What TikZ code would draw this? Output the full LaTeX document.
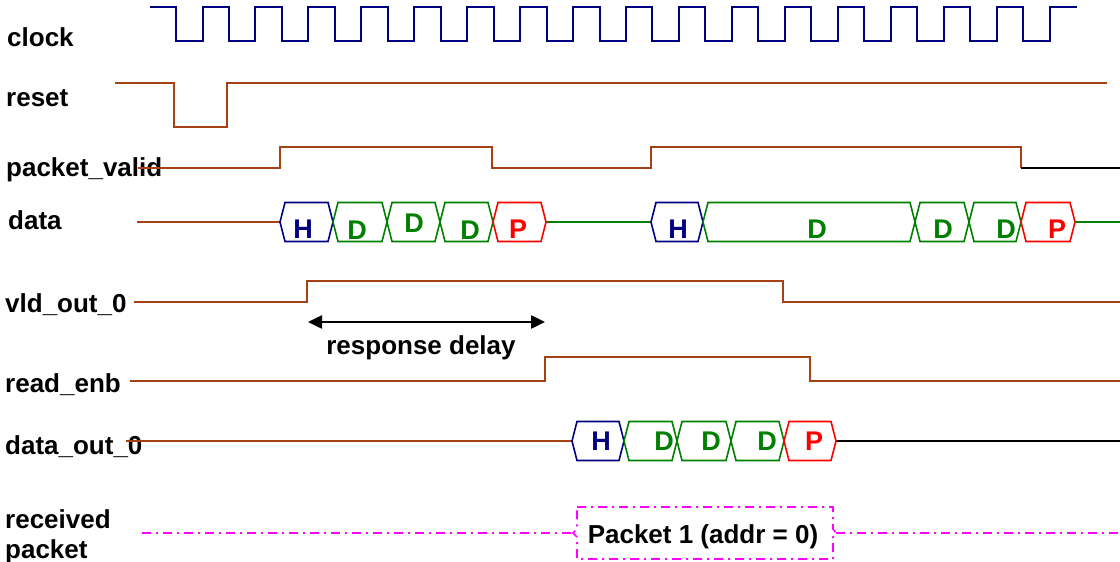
\documentclass[tikz,border=0pt]{standalone}
\usepackage{fontspec}
\setmainfont{Liberation Sans}
\usetikzlibrary{arrows.meta}
\definecolor{clknavy}{RGB}{0,0,128}
\definecolor{sigbrown}{RGB}{165,65,20}
\definecolor{datgreen}{RGB}{0,128,0}
\definecolor{pktmagenta}{RGB}{255,0,255}

\newcommand{\datacell}[4]{%
  \draw[#1, line width=1.6pt] (#2,#4) -- (#2+5,#4-19.5) -- (#3-5,#4-19.5) -- (#3,#4)
    -- (#3-5,#4+19.5) -- (#2+5,#4+19.5) -- cycle;}

\begin{document}
\begin{tikzpicture}[x=1pt,y=-1pt,
    sig/.style={line width=2pt, line join=miter},
    lbl/.style={anchor=base west, inner sep=0pt, font=\fontsize{26}{30}\selectfont\bfseries},
    ltr/.style={anchor=base, inner sep=0pt, font=\fontsize{27}{30}\selectfont\bfseries}]
\useasboundingbox (0,0) rectangle (1120,562);

\foreach \t/\x/\y/\n in {clock/7/46/lclk, reset/6/106/lrst, packet\_valid/6/176/lpv,
    data/8/229/ldat, vld\_out\_0/5/312/lvld, read\_enb/5/392/lrd, data\_out\_0/5/454/ldo,
    received/5/528/lrcv, packet/5/558/lpkt}{
  \node[lbl] (\n) at (\x,\y) {\t};
}

\draw[clknavy, line width=2pt] (150,7) foreach \i in {0,...,16}{
    -- ({176+52.94*\i},7) -- ({176+52.94*\i},41) -- ({202.5+52.94*\i},41) -- ({202.5+52.94*\i},7)}
  -- (1077,7);

\draw[sig, sigbrown] (115,83) -- (174,83) -- (174,127) -- (227,127) -- (227,83) -- (1107,83);

\draw[sig, sigbrown] (138,168) -- (280,168) -- (280,147) -- (492,147) -- (492,168) -- (651,168)
  -- (651,147) -- (1021,147) -- (1021,168);
\draw[sig, black] (1021,168) -- (1120,168);

\draw[sig, sigbrown] (137,222) -- (280,222);
\draw[sig, datgreen] (546,222) -- (651,222);
\draw[sig, datgreen] (1075,222) -- (1120,222);
\foreach \a/\b/\c in {280/333/clknavy, 333/387/datgreen, 387/440/datgreen, 440/493/datgreen,
    493/546/red, 651/703/clknavy, 703/915/datgreen, 915/969/datgreen, 969/1021/datgreen, 1021/1075/red}{
  \datacell{\c}{\a}{\b}{222}
}
\foreach \x/\y/\c/\t/\n in {303/238/clknavy/H/h1, 357/239/datgreen/D/d1, 414/232/datgreen/D/d2,
    470/239/datgreen/D/d3, 518/238/red/P/p1, 678/238/clknavy/H/h2, 817/238/datgreen/D/d4,
    943/238/datgreen/D/d5, 1006/238/datgreen/D/d6, 1057/238/red/P/p2}{
  \node[ltr, text=\c] (\n) at (\x,\y) {\t};
}

\draw[sig, sigbrown] (134,302) -- (307,302) -- (307,281) -- (783,281) -- (783,302) -- (1120,302);

\coordinate (dl) at (308,322);
\coordinate (dr) at (545,322);
\draw[line width=2.5pt, {Triangle[length=14pt,width=13pt]}-{Triangle[length=14pt,width=13pt]}] (dl) -- (dr);
\node[lbl, anchor=base] (rdly) at (421,354) {response delay};

\draw[sig, sigbrown] (130,381) -- (545,381) -- (545,357) -- (810,357) -- (810,381) -- (1120,381);

\draw[sig, sigbrown] (126,441) -- (572,441);
\draw[sig, black] (836,441) -- (1120,441);
\foreach \a/\b/\c in {572/624/clknavy, 624/677/datgreen, 677/731/datgreen, 731/784/datgreen, 784/836/red}{
  \datacell{\c}{\a}{\b}{441}
}
\foreach \x/\c/\t/\n in {601/clknavy/H/h3, 664/datgreen/D/d7, 711/datgreen/D/d8,
    767/datgreen/D/d9, 814/red/P/p3}{
  \node[ltr, text=\c] (\n) at (\x,450) {\t};
}

\node[lbl, anchor=base] (pkt1) at (703,543) {Packet 1 (addr = 0)};
\begin{scope}[pktmagenta, line width=1.6pt, dash pattern=on 9pt off 5pt on 2pt off 5pt]
  \draw (577,507) -- (833,507) -- (833,529) -- (836,533) -- (833,537) -- (833,559) -- (577,559)
    -- (577,537) -- (573,533) -- (577,529) -- cycle;
  \draw (142,533) -- (573,533);
  \draw (836,533) -- (1120,533);
\end{scope}
\end{tikzpicture}
\end{document}
